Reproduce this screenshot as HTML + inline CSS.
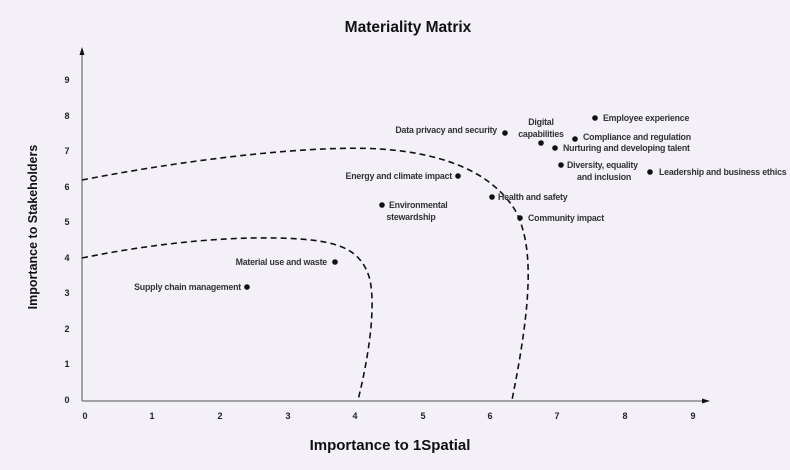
<!DOCTYPE html>
<html><head><meta charset="utf-8"><style>
body{margin:0;background:#f3f0f8;}
svg{display:block;font-family:"Liberation Sans",sans-serif;}
.l{font-size:8.8px;font-weight:bold;fill:#333;letter-spacing:-0.2px}
.t{font-size:9px;font-weight:bold;fill:#222}
</style></head><body>
<svg width="790" height="470" viewBox="0 0 790 470">
<rect width="790" height="470" fill="#f3f0f8"/>
<text x="408" y="32" text-anchor="middle" font-size="15.5" font-weight="bold" fill="#111">Materiality Matrix</text>
<text x="390" y="450" text-anchor="middle" font-size="15" font-weight="bold" fill="#111">Importance to 1Spatial</text>
<text transform="translate(37,227) rotate(-90)" text-anchor="middle" font-size="12.5" font-weight="bold" fill="#111">Importance to Stakeholders</text>
<g stroke="#888" stroke-width="1.5">
<line x1="82" y1="401" x2="82" y2="52"/>
<line x1="82" y1="401" x2="704" y2="401"/>
</g>
<polygon points="82,47 79.5,55 84.5,55" fill="#111"/>
<polygon points="710,401 702,398.5 702,403.5" fill="#111"/>
<g class="t" text-anchor="middle">
<text x="85" y="419">0</text><text x="152" y="419">1</text><text x="220" y="419">2</text><text x="288" y="419">3</text><text x="355" y="419">4</text><text x="423" y="419">5</text><text x="490" y="419">6</text><text x="557" y="419">7</text><text x="625" y="419">8</text><text x="693" y="419">9</text>
</g>
<g class="t" text-anchor="middle">
<text x="67" y="403">0</text><text x="67" y="367">1</text><text x="67" y="332">2</text><text x="67" y="296">3</text><text x="67" y="261">4</text><text x="67" y="225">5</text><text x="67" y="190">6</text><text x="67" y="154">7</text><text x="67" y="119">8</text><text x="67" y="83">9</text>
</g>
<g fill="none" stroke="#111" stroke-width="1.6" stroke-dasharray="6,4">
<path d="M82,258 C160,242 240,235 300,239 C340,242 362,250 370,280 C376,310 368,360 358,400"/>
<path d="M82,180 C200,157 320,145 380,149 C440,153 490,170 515,210 C534,245 532,300 512,400"/>
</g>
<g fill="#111">
<circle cx="247" cy="287" r="2.8"/><circle cx="335" cy="262" r="2.8"/><circle cx="382" cy="205" r="2.8"/><circle cx="458" cy="176" r="2.8"/><circle cx="492" cy="197" r="2.8"/><circle cx="520" cy="218" r="2.8"/><circle cx="505" cy="133" r="2.8"/><circle cx="541" cy="143" r="2.8"/><circle cx="555" cy="148" r="2.8"/><circle cx="575" cy="139" r="2.8"/><circle cx="595" cy="118" r="2.8"/><circle cx="561" cy="165" r="2.8"/><circle cx="650" cy="172" r="2.8"/>
</g>
<g class="l">
<text x="241" y="290" text-anchor="end">Supply chain management</text>
<text x="327" y="265" text-anchor="end">Material use and waste</text>
<text x="389" y="208">Environmental</text>
<text x="411" y="220" text-anchor="middle">stewardship</text>
<text x="452" y="179" text-anchor="end">Energy and climate impact</text>
<text x="498" y="200">Health and safety</text>
<text x="528" y="221">Community impact</text>
<text x="497" y="133" text-anchor="end">Data privacy and security</text>
<text x="541" y="125" text-anchor="middle">Digital</text>
<text x="541" y="137" text-anchor="middle">capabilities</text>
<text x="563" y="151">Nurturing and developing talent</text>
<text x="583" y="140">Compliance and regulation</text>
<text x="603" y="121">Employee experience</text>
<text x="567" y="168">Diversity, equality</text>
<text x="577" y="180">and inclusion</text>
<text x="659" y="175">Leadership and business ethics</text>
</g>
</svg>
</body></html>
